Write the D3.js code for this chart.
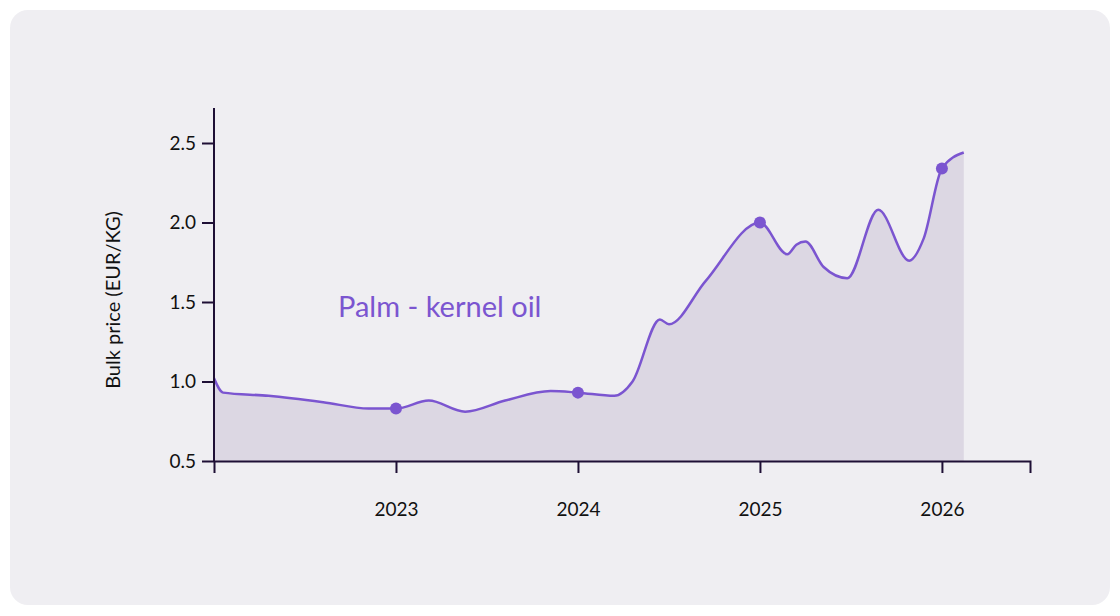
<!DOCTYPE html>
<html><head><meta charset="utf-8">
<script src="https://cdn.jsdelivr.net/npm/d3@7"></script>
<style>body{margin:0;background:#fff;font-family:Lato,"Open Sans",sans-serif}</style>
</head><body><div id="chart"></div>
<script>
// price series: year (decimal) and bulk price EUR/KG
const years = [2022.0, 2022.05, 2022.3, 2022.6, 2022.85, 2023.0, 2023.18, 2023.38, 2023.6, 2023.85, 2024.0, 2024.2, 2024.3, 2024.45, 2024.5, 2024.7, 2025.0, 2025.15, 2025.2, 2025.25, 2025.35, 2025.48, 2025.65, 2025.82, 2025.9, 2026.0, 2026.12];
const prices = [1.02, 0.93, 0.91, 0.87, 0.83, 0.83, 0.88, 0.81, 0.88, 0.94, 0.93, 0.91, 1.00, 1.39, 1.36, 1.63, 2.00, 1.80, 1.86, 1.88, 1.72, 1.65, 2.08, 1.76, 1.90, 2.34, 2.44];
const dotYears = [2023, 2024, 2025, 2026];
const xTicks = [2023, 2024, 2025, 2026];
const yTicks = [0.5, 1.0, 1.5, 2.0, 2.5];
const seriesLabel = "Palm - kernel oil";
const yLabel = "Bulk price (EUR/KG)";

const data = years.map((y, i) => ({year: y, price: prices[i]}));
const purple = "#7b55d0";

const svg = d3.select("#chart").append("svg").attr("width", 1120).attr("height", 616);
svg.append("rect").attr("x", 10).attr("y", 10).attr("width", 1100).attr("height", 595)
  .attr("rx", 18).attr("fill", "#efeef2");

const x = d3.scaleLinear().domain([2022, 2026.484]).range([214, 1030]);
const y = d3.scaleLinear().domain([0.5, 2.5]).range([461, 143]);

const area = d3.area().x(d => x(d.year)).y0(y(0.5)).y1(d => y(d.price)).curve(d3.curveMonotoneX);
const line = d3.line().x(d => x(d.year)).y(d => y(d.price)).curve(d3.curveMonotoneX);

svg.append("path").datum(data).attr("d", area).attr("fill", "#dcd7e3");
svg.append("path").datum(data).attr("d", line).attr("fill", "none")
  .attr("stroke", purple).attr("stroke-width", 2.5);

svg.selectAll("circle.dot").data(dotYears).join("circle")
  .attr("cx", d => x(d)).attr("cy", d => y(data.find(p => p.year === d).price))
  .attr("r", 6).attr("fill", purple);

const xAxis = svg.append("g").attr("transform", `translate(0,${y(0.5)})`)
  .call(d3.axisBottom(x).tickValues(xTicks).tickFormat(d3.format("d")).tickSize(12).tickPadding(30));
const yAxis = svg.append("g").attr("transform", `translate(${x(2022)},0)`)
  .call(d3.axisLeft(y).tickValues(yTicks).tickFormat(d3.format(".1f")).tickSize(12).tickPadding(6));
yAxis.select(".domain").attr("d", `M0,${y(0.5)}V108`);
[xAxis, yAxis].forEach(a => {
  a.selectAll("path,line").attr("stroke", "#1e0f35").attr("stroke-width", 2);
  a.selectAll("text").attr("font-size", 19).attr("fill", "#111").attr("font-family", "Lato, sans-serif");
});
xAxis.selectAll(".tick line").attr("y2", 12);

svg.append("text").attr("transform", "translate(120,300) rotate(-90)")
  .attr("text-anchor", "middle").attr("font-size", 20).attr("fill", "#111").text(yLabel);
svg.append("text").attr("x", 338).attr("y", 317).attr("font-size", 29)
  .attr("fill", purple).text(seriesLabel);
</script></body></html>
